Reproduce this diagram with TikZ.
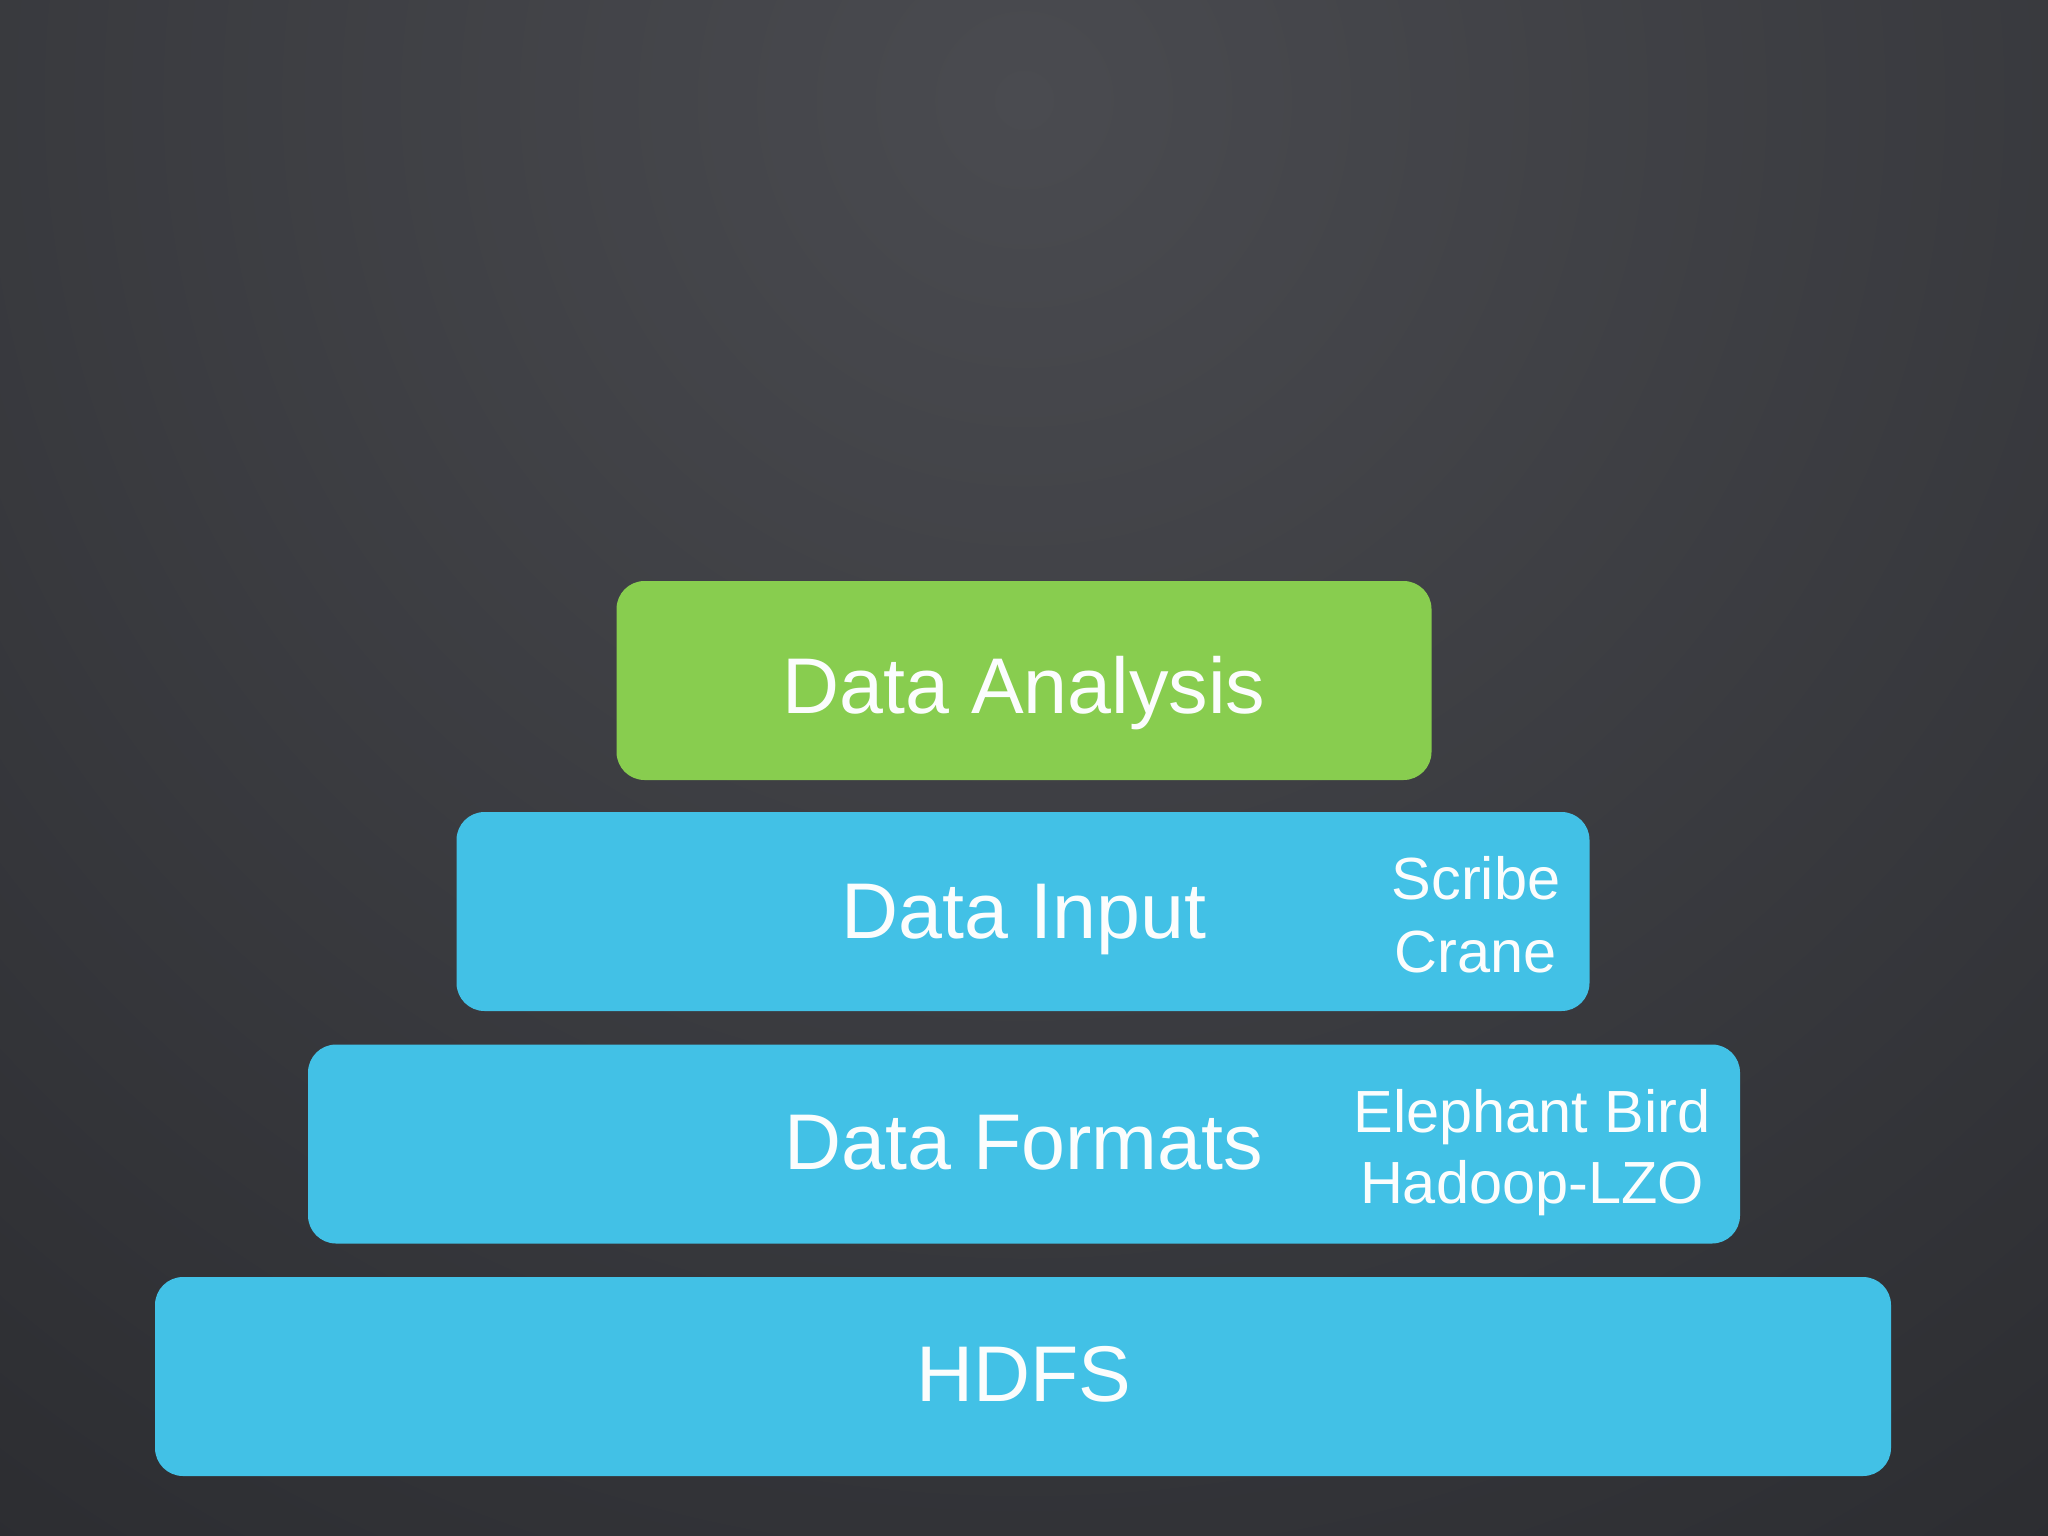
\documentclass[tikz,border=0pt]{standalone}
\usepackage{fontspec}
\setmainfont{Liberation Sans}
\definecolor{bgdark}{HTML}{2A2B2F}
\definecolor{bglight}{HTML}{4A4B50}
\definecolor{boxgreen}{HTML}{88CD4F}
\definecolor{boxblue}{HTML}{42C1E6}
\definecolor{txt}{HTML}{FBFDFD}
\begin{document}
\begin{tikzpicture}[x=1pt,y=-1pt,
  layer/.style={rounded corners=28pt, inner sep=0pt, minimum height=199pt},
  mainlbl/.style={anchor=base, text=txt, inner sep=0pt, font=\fontsize{79}{90}\selectfont},
  sidelbl/.style={anchor=base, text=txt, inner sep=0pt, font=\fontsize{59.5}{70}\selectfont}]
  % background
  \fill[bgdark] (0,0) rectangle (2048,1536);
  \useasboundingbox (0,0) rectangle (2048,1536);
  \begin{scope}
    \clip (0,0) rectangle (2048,1536);
    \shade[inner color=bglight, outer color=bgdark] (1024,100) circle [radius=1900pt];
  \end{scope}
  % layers
  \node[layer, fill=boxgreen, minimum width=815pt] (da) at (1024,680.5) {};
  \node[layer, fill=boxblue, minimum width=1133pt] (di) at (1023,911.5) {};
  \node[layer, fill=boxblue, minimum width=1432pt] (df) at (1024,1144) {};
  \node[layer, fill=boxblue, minimum width=1736pt] (hd) at (1023,1376.5) {};
  % main labels
  \node[mainlbl] (tda) at (1024,713) {Data Analysis};
  \node[mainlbl] (tdi) at (1024,938) {Data Input};
  \node[mainlbl] (tdf) at (1024,1169) {Data Formats};
  \node[mainlbl] (thd) at (1024,1401) {HDFS};
  % side labels
  \node[sidelbl] (scribe) at (1476,899) {Scribe};
  \node[sidelbl] (crane) at (1476,972) {Crane};
  \node[sidelbl] (eb) at (1532,1132) {Elephant Bird};
  \node[sidelbl] (lzo) at (1532,1203) {Hadoop-LZO};
\end{tikzpicture}
\end{document}
